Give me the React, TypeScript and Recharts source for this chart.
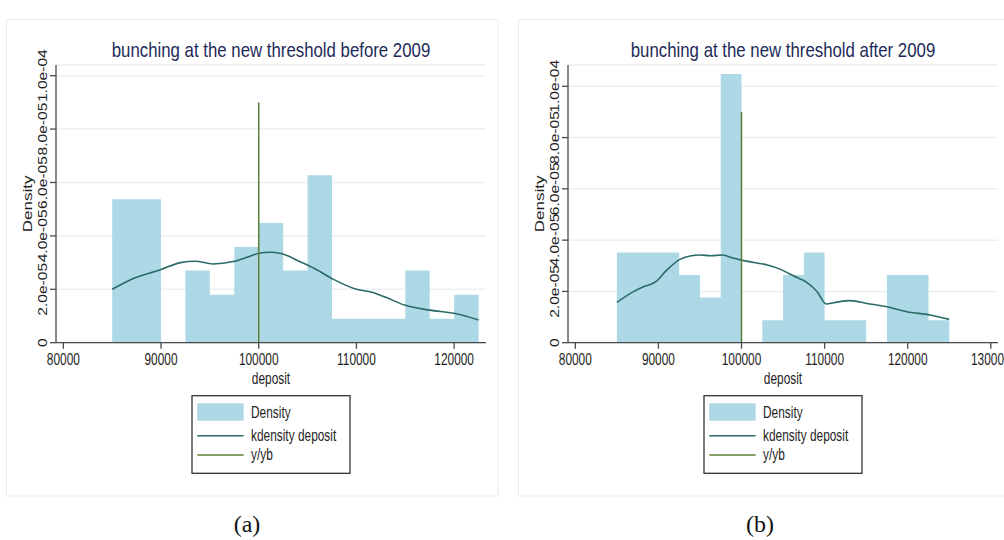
import { ComposedChart, Area, Line, XAxis, YAxis, CartesianGrid, Label } from 'recharts';

// histogram bins (width 2500) and densities, before 2009
const beforeBinStarts = [85000, 87500, 90000, 92500, 95000, 97500, 100000, 102500, 105000, 107500, 110000, 112500, 115000, 117500, 120000];
const beforeBinEnd = 122500;
const beforeDensity = [5.37e-5, 5.37e-5, 0, 2.7e-5, 1.8e-5, 3.58e-5, 4.48e-5, 2.7e-5, 6.27e-5, 0.9e-5, 0.9e-5, 0.9e-5, 2.7e-5, 0.9e-5, 1.8e-5];

// kernel density of deposit, before 2009
const beforeKdeX = [85000, 87000, 90000, 92000, 93500, 95300, 97400, 98800, 100000, 101100, 102300, 104300, 105700, 107600, 110000, 111600, 113000, 115000, 117500, 120000, 122500];
const beforeKdeY = [2.0e-5, 2.38e-5, 2.74e-5, 3.0e-5, 3.05e-5, 2.95e-5, 3.04e-5, 3.2e-5, 3.35e-5, 3.39e-5, 3.34e-5, 3.02e-5, 2.78e-5, 2.38e-5, 2.0e-5, 1.89e-5, 1.7e-5, 1.4e-5, 1.22e-5, 1.1e-5, 0.85e-5];

// after 2009
const afterBinStarts = [85000, 87500, 90000, 92500, 95000, 97500, 100000, 102500, 105000, 107500, 110000, 112500, 115000, 117500, 120000, 122500];
const afterBinEnd = 125000;
const afterDensity = [3.52e-5, 3.52e-5, 3.52e-5, 2.64e-5, 1.76e-5, 10.48e-5, 0, 0.88e-5, 2.64e-5, 3.52e-5, 0.88e-5, 0.88e-5, 0, 2.64e-5, 2.64e-5, 0.88e-5];

const afterKdeX = [85000, 87000, 88200, 89700, 91000, 92600, 93800, 95000, 96300, 97700, 99100, 100000, 101500, 103100, 104700, 106300, 107900, 109100, 110200, 111100, 113100, 115100, 117500, 119900, 122700, 125000];
const afterKdeY = [1.57e-5, 1.99e-5, 2.18e-5, 2.38e-5, 2.83e-5, 3.25e-5, 3.38e-5, 3.42e-5, 3.39e-5, 3.42e-5, 3.29e-5, 3.22e-5, 3.13e-5, 3.03e-5, 2.86e-5, 2.6e-5, 2.34e-5, 1.99e-5, 1.51e-5, 1.56e-5, 1.64e-5, 1.53e-5, 1.4e-5, 1.21e-5, 1.08e-5, 0.91e-5];

// threshold marker y/yb
const thresholdX = 100000;
const thresholdTop = 9e-5;

const beforeXTicks = [80000, 90000, 100000, 110000, 120000];
const afterXTicks = [80000, 90000, 100000, 110000, 120000, 130000];
const yTicks = [0, 2e-5, 4e-5, 6e-5, 8e-5, 1e-4];
const yTickLabels = ['0', '2.0e-05', '4.0e-05', '6.0e-05', '8.0e-05', '1.0e-04'];
const seriesNames = ['Density', 'kdensity deposit', 'y/yb'];

const FONT = "'Liberation Sans', Arial, sans-serif";
const BAR = '#add8e6';
const KDE = '#2b6b66';
const YB = '#5b7f34';
const AXIS = '#4a4a4a';
const INK = '#1e1e1e';

const CHART_W = 500;
const CHART_H = 400;
const MARGIN = { top: 65, right: 14, bottom: 17.3, left: 0 };
const Y_AXIS_W = 56;
const PLOT_W = CHART_W - MARGIN.right - Y_AXIS_W;

const XTick = (props: any) => {
  const { x, y, payload } = props;
  return (
    <g transform={`translate(${x},${y + 14.3})`}>
      <text transform="scale(0.7,1)" textAnchor="middle" fontSize={17} fontFamily={FONT} fill={INK}>
        {String(payload.value)}
      </text>
    </g>
  );
};

// rotated y tick labels, long enough that neighbours run together
const YTick = (props: any) => {
  const { x, y, payload } = props;
  const i = yTicks.findIndex((t) => Math.abs(t - payload.value) < 1e-9);
  return (
    <g transform={`translate(${x - 1.3},${y}) scale(0.85,1) rotate(-90)`}>
      <text textAnchor="middle" fontSize={15.6} fontFamily={FONT} fill={INK}>
        {i >= 0 ? yTickLabels[i] : ''}
      </text>
    </g>
  );
};

type PanelProps = {
  left: number;
  title: string;
  binStarts: number[];
  binEnd: number;
  density: number[];
  kdeX: number[];
  kdeY: number[];
  xDomain: [number, number];
  yMax: number;
  xTicks: number[];
};

function Panel({ left, title, binStarts, binEnd, density, kdeX, kdeY, xDomain, yMax, xTicks }: PanelProps) {
  const hist = binStarts
    .map((x, i) => ({ x, density: density[i] }))
    .concat({ x: binEnd, density: density[density.length - 1] });
  const kde = kdeX.map((x, i) => ({ x, kde: kdeY[i] }));
  const yb = [
    { x: thresholdX, yb: 0 },
    { x: thresholdX, yb: thresholdTop },
  ];
  const cx = Y_AXIS_W + PLOT_W / 2;
  const lgW = 158;
  const lgX = cx - lgW / 2;
  const lgY = 395.7;

  return (
    <div style={{ position: 'absolute', left, top: 0, width: CHART_W, height: 540 }}>
      <ComposedChart width={CHART_W} height={CHART_H} margin={MARGIN}>
        <CartesianGrid vertical={false} stroke="#e9f1f3" strokeWidth={1.5} />
        <XAxis
          dataKey="x"
          type="number"
          domain={xDomain}
          allowDataOverflow
          ticks={xTicks}
          interval={0}
          height={40}
          tick={<XTick />}
          tickSize={6}
          stroke={AXIS}
          strokeWidth={1.3}
        >
          <Label
            content={(p: any) => {
              const vb = p.viewBox;
              return (
                <g transform={`translate(${vb.x + vb.width / 2},${vb.y + 41.3})`}>
                  <text transform="scale(0.7,1)" textAnchor="middle" fontSize={17} fontFamily={FONT} fill={INK}>
                    deposit
                  </text>
                </g>
              );
            }}
          />
        </XAxis>
        <YAxis
          type="number"
          domain={[0, yMax]}
          allowDataOverflow
          ticks={yTicks}
          interval={0}
          width={Y_AXIS_W}
          tick={<YTick />}
          tickSize={6}
          stroke={AXIS}
          strokeWidth={1.3}
        >
          <Label
            content={(p: any) => {
              const vb = p.viewBox;
              return (
                <g transform={`translate(${vb.x + vb.width - 24.3},${vb.y + vb.height / 2}) scale(0.75,1) rotate(-90)`}>
                  <text textAnchor="middle" fontSize={17} fontFamily={FONT} fill={INK}>
                    Density
                  </text>
                </g>
              );
            }}
          />
        </YAxis>
        <Area
          data={hist}
          dataKey="density"
          type="stepAfter"
          fill={BAR}
          fillOpacity={1}
          stroke="none"
          isAnimationActive={false}
        />
        <Line data={kde} dataKey="kde" type="monotone" stroke={KDE} strokeWidth={1.6} dot={false} isAnimationActive={false} />
        <Line data={yb} dataKey="yb" type="linear" stroke={YB} strokeWidth={1.5} dot={false} isAnimationActive={false} />
      </ComposedChart>

      <svg width={CHART_W} height={540} style={{ position: 'absolute', left: 0, top: 0, pointerEvents: 'none' }}>
        <g transform={`translate(${cx},56.5)`}>
          <text transform="scale(0.82,1)" textAnchor="middle" fontSize={20.5} fontFamily={FONT} fill="#1d2b58">
            {title}
          </text>
        </g>
        <rect x={lgX} y={lgY} width={lgW} height={77.6} fill="#fff" stroke="#333" strokeWidth={1.3} />
        <rect x={lgX + 5.3} y={lgY + 7.6} width={46.3} height={17.4} fill={BAR} />
        <line x1={lgX + 5.3} x2={lgX + 51.6} y1={lgY + 40} y2={lgY + 40} stroke={KDE} strokeWidth={1.6} />
        <line x1={lgX + 5.3} x2={lgX + 51.6} y1={lgY + 59.3} y2={lgY + 59.3} stroke={YB} strokeWidth={1.6} />
        {seriesNames.map((name, i) => (
          <g key={name} transform={`translate(${lgX + 59},${lgY + [22.5, 45.7, 64.5][i]})`}>
            <text transform="scale(0.7,1)" fontSize={17} fontFamily={FONT} fill={INK}>
              {name}
            </text>
          </g>
        ))}
      </svg>
    </div>
  );
}

export default function App() {
  return (
    <div
      style={{
        position: 'absolute',
        left: 0,
        top: 0,
        width: 1004,
        height: 540,
        overflow: 'hidden',
        background: '#fff',
      }}
    >
      <svg width={1004} height={540} style={{ position: 'absolute', left: 0, top: 0 }}>
        <rect x={6.5} y={19.5} width={491.5} height={476.5} fill="none" stroke="#ececec" />
        <rect x={518.5} y={19.5} width={491.5} height={476.5} fill="none" stroke="#ececec" />
        <text x={247} y={532} textAnchor="middle" fontSize={24} fontFamily="'Liberation Serif', serif" fill="#111">
          (a)
        </text>
        <text x={760} y={532} textAnchor="middle" fontSize={24} fontFamily="'Liberation Serif', serif" fill="#111">
          (b)
        </text>
      </svg>
      <Panel
        left={0}
        title="bunching at the new threshold before 2009"
        binStarts={beforeBinStarts}
        binEnd={beforeBinEnd}
        density={beforeDensity}
        kdeX={beforeKdeX}
        kdeY={beforeKdeY}
        xDomain={[79250, 123262]}
        yMax={1.04e-4}
        xTicks={beforeXTicks}
      />
      <Panel
        left={511.7}
        title="bunching at the new threshold after 2009"
        binStarts={afterBinStarts}
        binEnd={afterBinEnd}
        density={afterDensity}
        kdeX={afterKdeX}
        kdeY={afterKdeY}
        xDomain={[79120, 130865]}
        yMax={1.083e-4}
        xTicks={afterXTicks}
      />
    </div>
  );
}
